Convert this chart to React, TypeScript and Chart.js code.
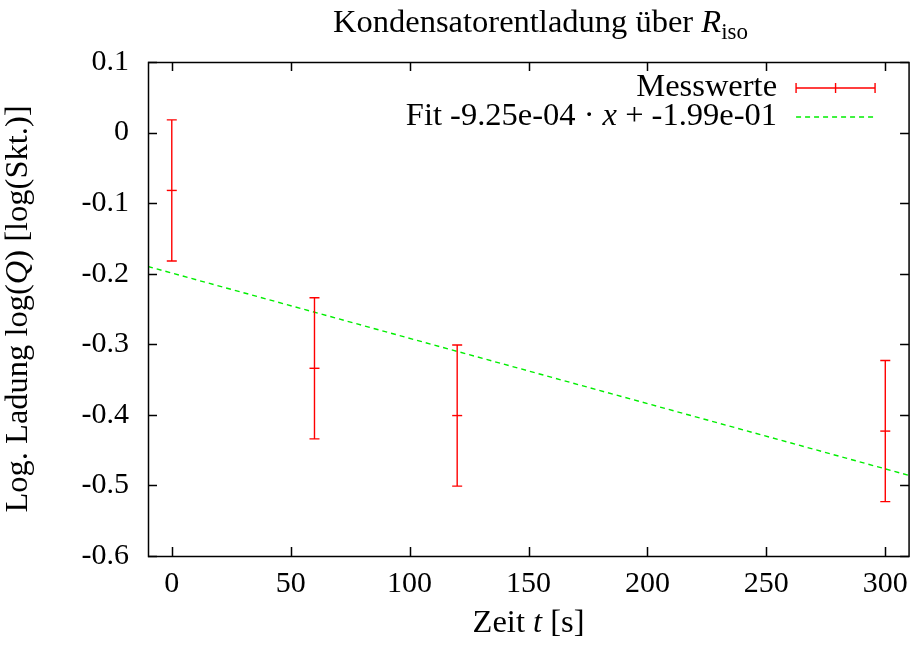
import { useEffect, useRef } from "react";
import { Chart, registerables } from "chart.js";

Chart.register(...registerables);

// ---- data ----
const timeValues = [0, 60, 120, 300];
const logCharge = [-0.082, -0.334, -0.401, -0.423];
const logChargeErr = [0.1, 0.1, 0.1, 0.1];
const fitX = [-10, 310];
const fitY = [-0.1898, -0.4858];
const xTicks = [0, 50, 100, 150, 200, 250, 300];
const yTicks = [-0.6, -0.5, -0.4, -0.3, -0.2, -0.1, 0, 0.1];
const yTickLabels = ["-0.6", "-0.5", "-0.4", "-0.3", "-0.2", "-0.1", "0", "0.1"];

const FONT = '"Liberation Serif", "Times New Roman", serif';
const FS = 30; // tick labels
const TS = 32.5; // text labels
const RED = "#ff0000";
const GREEN = "#00ee00";

type Part = { t: string; it?: boolean; sub?: boolean };

function drawRich(
  ctx: CanvasRenderingContext2D,
  parts: Part[],
  x: number,
  y: number,
  align: "left" | "center" | "right",
  size: number
) {
  const fontFor = (p: Part) => `${p.it ? "italic " : ""}${p.sub ? Math.round(size * 0.7) : size}px ${FONT}`;
  let w = 0;
  for (const p of parts) {
    ctx.font = fontFor(p);
    w += ctx.measureText(p.t).width;
  }
  let cx = align === "left" ? x : align === "center" ? x - w / 2 : x - w;
  ctx.textAlign = "left";
  ctx.textBaseline = "alphabetic";
  for (const p of parts) {
    ctx.font = fontFor(p);
    ctx.fillText(p.t, cx, y + (p.sub ? size * 0.2 : 0));
    cx += ctx.measureText(p.t).width;
  }
}

const decorPlugin = {
  id: "decor",
  afterDatasetsDraw(chart: any) {
    const ctx: CanvasRenderingContext2D = chart.ctx;
    const xs = chart.scales.x;
    const ys = chart.scales.y;
    const a = chart.chartArea;
    ctx.save();
    // error bars
    ctx.strokeStyle = RED;
    ctx.lineWidth = 1.4;
    for (let i = 0; i < timeValues.length; i++) {
      const px = xs.getPixelForValue(timeValues[i]);
      const yt = ys.getPixelForValue(logCharge[i] + logChargeErr[i]);
      const yb = ys.getPixelForValue(logCharge[i] - logChargeErr[i]);
      ctx.beginPath();
      ctx.moveTo(px, yt);
      ctx.lineTo(px, yb);
      ctx.moveTo(px - 5, yt);
      ctx.lineTo(px + 5, yt);
      ctx.moveTo(px - 5, yb);
      ctx.lineTo(px + 5, yb);
      ctx.stroke();
    }
    // frame
    ctx.strokeStyle = "#000";
    ctx.lineWidth = 1.5;
    ctx.strokeRect(a.left + 0.5, a.top + 0.5, a.right - a.left - 0.5, a.bottom - a.top);
    // inward ticks
    const tl = 9;
    ctx.beginPath();
    for (const v of xTicks) {
      const px = Math.round(xs.getPixelForValue(v)) + 0.5;
      ctx.moveTo(px, a.bottom);
      ctx.lineTo(px, a.bottom - tl);
      ctx.moveTo(px, a.top);
      ctx.lineTo(px, a.top + tl);
    }
    for (const v of yTicks) {
      const py = Math.round(ys.getPixelForValue(v)) + 0.5;
      ctx.moveTo(a.left, py);
      ctx.lineTo(a.left + tl, py);
      ctx.moveTo(a.right, py);
      ctx.lineTo(a.right - tl, py);
    }
    ctx.stroke();

    // legend
    ctx.fillStyle = "#000";
    const sEnd = a.right - 34;
    const sStart = sEnd - 79;
    const textRight = sStart - 19;
    const r1 = a.top + 26;
    const r2 = a.top + 55;
    drawRich(ctx, [{ t: "Messwerte" }], textRight, r1 + 8, "right", TS);
    drawRich(
      ctx,
      [{ t: "Fit -9.25e-04 · " }, { t: "x", it: true }, { t: " + -1.99e-01" }],
      textRight,
      r2 + 8,
      "right",
      TS
    );
    ctx.strokeStyle = RED;
    ctx.lineWidth = 1.4;
    ctx.beginPath();
    const mid = (sStart + sEnd) / 2;
    ctx.moveTo(sStart, r1);
    ctx.lineTo(sEnd, r1);
    ctx.moveTo(sStart, r1 - 5);
    ctx.lineTo(sStart, r1 + 5);
    ctx.moveTo(sEnd, r1 - 5);
    ctx.lineTo(sEnd, r1 + 5);
    ctx.moveTo(mid, r1 - 5);
    ctx.lineTo(mid, r1 + 5);
    ctx.stroke();
    ctx.strokeStyle = GREEN;
    ctx.lineWidth = 1.4;
    ctx.setLineDash([5, 4]);
    ctx.beginPath();
    ctx.moveTo(sStart, r2);
    ctx.lineTo(sEnd, r2);
    ctx.stroke();
    ctx.setLineDash([]);

    // titles
    ctx.fillStyle = "#000";
    const cxp = (a.left + a.right) / 2;
    drawRich(
      ctx,
      [{ t: "Kondensatorentladung über " }, { t: "R", it: true }, { t: "iso", sub: true }],
      cxp + 12,
      32,
      "center",
      TS
    );
    drawRich(ctx, [{ t: "Zeit " }, { t: "t", it: true }, { t: " [s]" }], cxp, 632, "center", TS);
    ctx.save();
    ctx.translate(27, (a.top + a.bottom) / 2);
    ctx.rotate(-Math.PI / 2);
    drawRich(
      ctx,
      [{ t: "Log. Ladung log(" }, { t: "Q", it: true }, { t: ") [log(Skt.)]" }],
      0,
      0,
      "center",
      TS
    );
    ctx.restore();
    ctx.restore();
  },
};

export default function App() {
  const ref = useRef<HTMLCanvasElement | null>(null);
  useEffect(() => {
    if (!ref.current) return;
    const chart = new Chart(ref.current, {
      type: "scatter",
      data: {
        datasets: [
          {
            label: "Messwerte",
            data: timeValues.map((x, i) => ({ x, y: logCharge[i] })),
            pointStyle: "line",
            pointRadius: 5,
            pointBorderWidth: 1.4,
            borderColor: RED,
            backgroundColor: RED,
            showLine: false,
          },
          {
            label: "Fit",
            data: fitX.map((x, i) => ({ x, y: fitY[i] })),
            showLine: true,
            pointRadius: 0,
            borderColor: GREEN,
            borderWidth: 1.4,
            borderDash: [5, 4],
            fill: false,
          },
        ],
      },
      options: {
        responsive: false,
        animation: false,
        layout: { padding: { top: 62, right: 7, left: 0, bottom: 0 } },
        plugins: { legend: { display: false }, tooltip: { enabled: false }, title: { display: false } },
        scales: {
          x: {
            type: "linear",
            min: -10,
            max: 310,
            afterBuildTicks: (s: any) => {
              s.ticks = xTicks.map((v) => ({ value: v }));
            },
            afterFit: (s: any) => {
              s.height = 92;
            },
            grid: { display: false, drawTicks: false },
            border: { display: false },
            ticks: {
              color: "#000",
              font: { family: FONT, size: FS },
              padding: 10,
              maxRotation: 0,
              callback: (v: any) => String(v),
            },
          },
          y: {
            type: "linear",
            min: -0.6,
            max: 0.1,
            afterBuildTicks: (s: any) => {
              s.ticks = yTicks.map((v) => ({ value: v }));
            },
            afterFit: (s: any) => {
              s.width = 148;
            },
            grid: { display: false, drawTicks: false },
            border: { display: false },
            ticks: {
              color: "#000",
              font: { family: FONT, size: FS },
              padding: 19,
              callback: (v: any) => {
                const i = yTicks.findIndex((t) => Math.abs(t - v) < 1e-9);
                return i >= 0 ? yTickLabels[i] : "";
              },
            },
          },
        },
      },
      plugins: [decorPlugin],
    });
    return () => chart.destroy();
  }, []);
  return (
    <div style={{ position: "absolute", left: 0, top: 0, width: 918, height: 648, background: "#fff" }}>
      <canvas ref={ref} width={918} height={648} style={{ display: "block" }} />
    </div>
  );
}
